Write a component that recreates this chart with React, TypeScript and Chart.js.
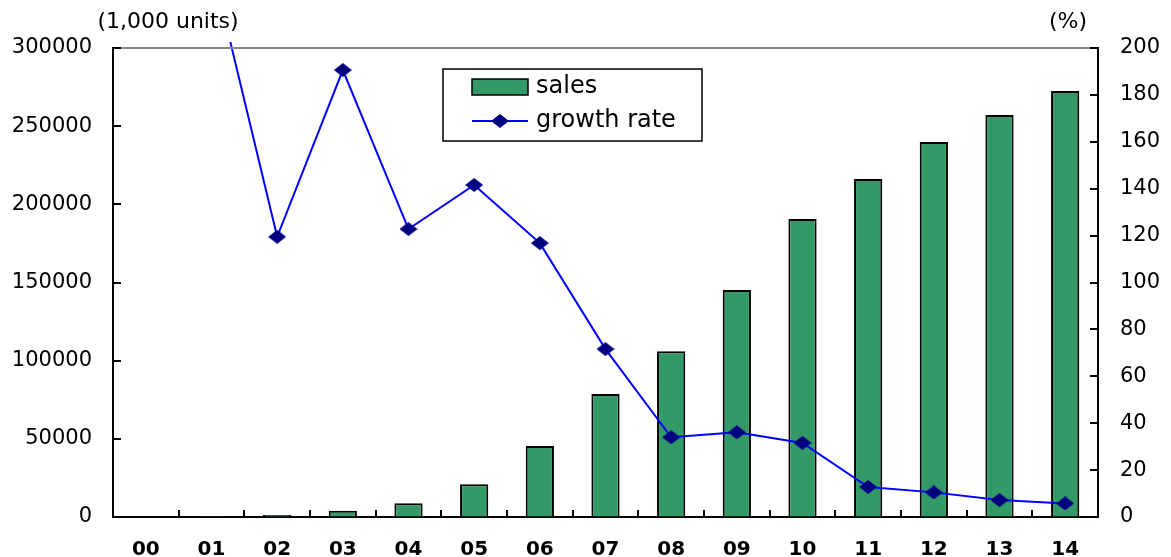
import React, { useEffect, useRef } from "react";
import { Chart, registerables } from "chart.js";

Chart.register(...registerables);

// ---- data ----
const categories = ["00", "01", "02", "03", "04", "05", "06", "07", "08", "09", "10", "11", "12", "13", "14"];
const salesValues = [0, 610, 1350, 3950, 8800, 21000, 45400, 78700, 106000, 145200, 190600, 216200, 239900, 257100, 272500];
const growthRates = [null, 236, 119.5, 190.6, 122.8, 141.6, 116.8, 71.6, 34.0, 36.1, 31.6, 12.8, 10.5, 7.2, 5.8];
const salesLabel = "sales";
const growthLabel = "growth rate";
const leftUnitLabel = "(1,000 units)";
const rightUnitLabel = "(%)";
const leftAxisMax = 300000;
const leftAxisStep = 50000;
const rightAxisMax = 200;
const rightAxisStep = 20;

const W = 1171;
const H = 557;
const FONT = "'DejaVu Sans', sans-serif";
const BAR_GREEN = "#339966";
const LINE_BLUE = "#0000FF";
const MARKER_NAVY = "#000080";

function makeDiamond(w: number, h: number, color: string) {
  const c = document.createElement("canvas");
  c.width = w;
  c.height = h;
  const g = c.getContext("2d")!;
  g.fillStyle = color;
  g.beginPath();
  g.moveTo(w / 2, 0);
  g.lineTo(w, h / 2);
  g.lineTo(w / 2, h);
  g.lineTo(0, h / 2);
  g.closePath();
  g.fill();
  return c;
}

export default function App() {
  const ref = useRef<HTMLCanvasElement | null>(null);

  useEffect(() => {
    if (!ref.current) return;
    const diamond = makeDiamond(18, 14, MARKER_NAVY);

    const decor = {
      id: "decor",
      afterDraw(chart: any) {
        const { ctx, chartArea } = chart;
        const { left, right, top, bottom } = chartArea;
        const xs = chart.scales.x;
        const yl = chart.scales.y;
        const yr = chart.scales.y1;
        ctx.save();
        // top frame line
        ctx.strokeStyle = "#888888";
        ctx.lineWidth = 2;
        ctx.beginPath();
        ctx.moveTo(left, top);
        ctx.lineTo(right, top);
        ctx.stroke();
        // inward tick marks
        ctx.strokeStyle = "#000";
        ctx.lineWidth = 2;
        ctx.beginPath();
        yl.ticks.forEach((_t: any, i: number) => {
          const py = Math.round(yl.getPixelForTick(i));
          ctx.moveTo(left, py);
          ctx.lineTo(left + 8, py);
        });
        yr.ticks.forEach((_t: any, i: number) => {
          const py = Math.round(yr.getPixelForTick(i));
          ctx.moveTo(right, py);
          ctx.lineTo(right - 8, py);
        });
        for (let i = 1; i < categories.length; i++) {
          const px = Math.round((xs.getPixelForValue(i - 1) + xs.getPixelForValue(i)) / 2);
          ctx.moveTo(px, bottom);
          ctx.lineTo(px, bottom - 7);
        }
        ctx.stroke();

        // y tick labels
        ctx.fillStyle = "#000";
        ctx.font = `21px ${FONT}`;
        ctx.textBaseline = "middle";
        ctx.textAlign = "right";
        yl.ticks.forEach((t: any, i: number) => {
          ctx.fillText(String(t.value), left - 21, yl.getPixelForTick(i));
        });
        ctx.textAlign = "left";
        yr.ticks.forEach((t: any, i: number) => {
          ctx.fillText(String(t.value), right + 22, yr.getPixelForTick(i));
        });

        // unit labels
        ctx.font = `22px ${FONT}`;
        ctx.textAlign = "center";
        ctx.fillText(leftUnitLabel, 168, 22);
        ctx.fillText(rightUnitLabel, 1068, 22);

        // legend
        const bx = 443, by = 69, bw = 259, bh = 72;
        ctx.fillStyle = "#fff";
        ctx.fillRect(bx, by, bw, bh);
        ctx.strokeStyle = "#000";
        ctx.lineWidth = 1.5;
        ctx.strokeRect(bx, by, bw, bh);
        ctx.fillStyle = BAR_GREEN;
        ctx.fillRect(472, 79, 56, 16);
        ctx.lineWidth = 1.5;
        ctx.strokeRect(472, 79, 56, 16);
        ctx.strokeStyle = LINE_BLUE;
        ctx.lineWidth = 2;
        ctx.beginPath();
        ctx.moveTo(472, 121);
        ctx.lineTo(528, 121);
        ctx.stroke();
        ctx.drawImage(diamond, 500 - 9, 121 - 7);
        ctx.fillStyle = "#000";
        ctx.font = `24px ${FONT}`;
        ctx.textAlign = "left";
        ctx.textBaseline = "middle";
        ctx.fillText(salesLabel, 536, 87);
        ctx.fillText(growthLabel, 536, 121);
        ctx.restore();
      },
    };

    const chart = new Chart(ref.current, {
      type: "bar",
      data: {
        labels: categories,
        datasets: [
          {
            type: "line",
            label: growthLabel,
            data: growthRates as any,
            yAxisID: "y1",
            borderColor: LINE_BLUE,
            backgroundColor: MARKER_NAVY,
            borderWidth: 2,
            pointStyle: diamond as any,
            pointRadius: 7,
            tension: 0,
            spanGaps: false,
            order: 0,
            clip: { left: 10, top: 6, right: 10, bottom: 10 } as any,
          } as any,
          {
            type: "bar",
            label: salesLabel,
            data: salesValues,
            yAxisID: "y",
            backgroundColor: BAR_GREEN,
            borderColor: "#000",
            borderWidth: 2,
            barPercentage: 0.43,
            categoryPercentage: 1,
            order: 1,
          },
        ],
      },
      options: {
        responsive: false,
        animation: false,
        layout: { padding: { top: 48, left: 0, right: 0, bottom: 0 } },
        plugins: {
          legend: { display: false },
          tooltip: { enabled: false },
          title: { display: false },
        },
        scales: {
          x: {
            type: "category",
            offset: true,
            grid: { display: true, drawOnChartArea: false, drawTicks: false },
            border: { display: true, color: "#000", width: 2 },
            ticks: {
              color: "#000",
              font: { family: FONT, size: 20, weight: "bold" },
              padding: 21,
              maxRotation: 0,
              autoSkip: false,
            },
            afterFit: (s: any) => {
              s.height = 40;
            },
          },
          y: {
            position: "left",
            min: 0,
            max: leftAxisMax,
            grid: { display: true, drawOnChartArea: false, drawTicks: false },
            border: { display: true, color: "#000", width: 2 },
            ticks: { stepSize: leftAxisStep, display: false },
            afterFit: (s: any) => {
              s.width = 113;
            },
          },
          y1: {
            position: "right",
            min: 0,
            max: rightAxisMax,
            grid: { display: true, drawOnChartArea: false, drawTicks: false },
            border: { display: true, color: "#000", width: 2 },
            ticks: { stepSize: rightAxisStep, display: false },
            afterFit: (s: any) => {
              s.width = W - 1098;
            },
          },
        },
      } as any,
      plugins: [decor],
    });
    return () => chart.destroy();
  }, []);

  return (
    <div style={{ position: "fixed", left: 0, top: 0, width: W, height: H, background: "#fff" }}>
      <canvas ref={ref} width={W} height={H} style={{ width: W, height: H, display: "block" }} />
    </div>
  );
}
